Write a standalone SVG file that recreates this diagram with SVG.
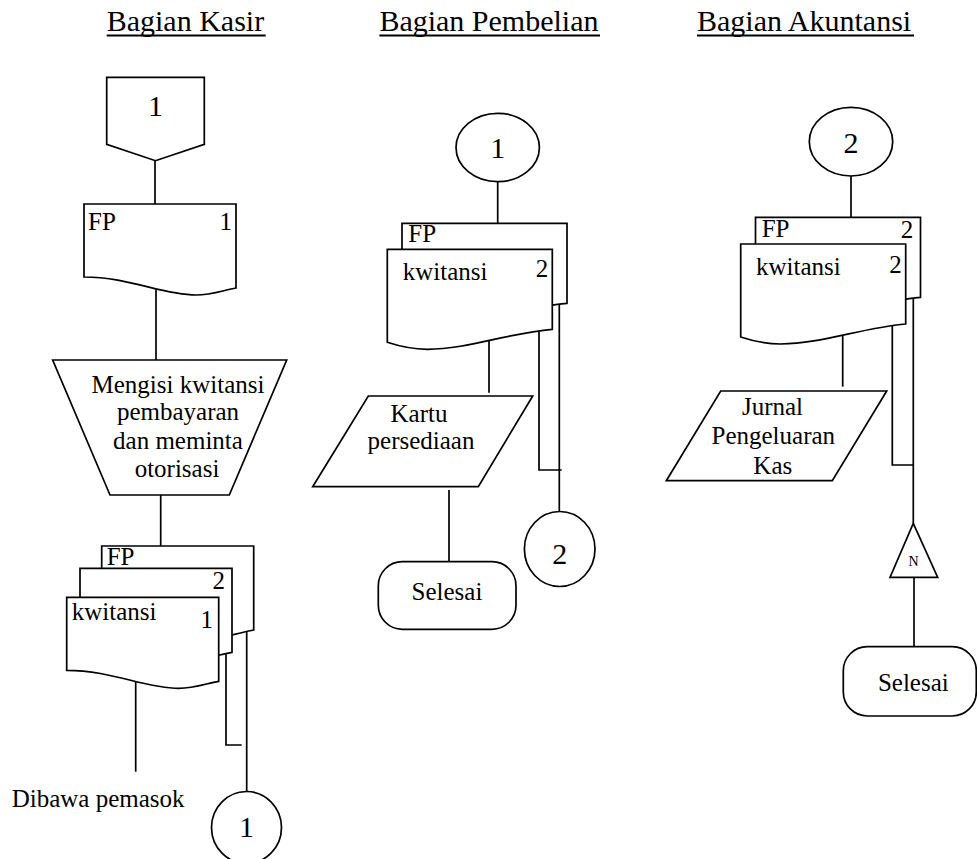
<svg xmlns="http://www.w3.org/2000/svg" xmlns:xlink="http://www.w3.org/1999/xlink" width="977" height="859" viewBox="0 0 977 859">
  <style>
    .shape { fill: #ffffff; stroke: #000000; stroke-width: 1.7; stroke-linejoin: miter; }
    .line { fill: none; stroke: #000000; stroke-width: 1.7; }
    .ul { stroke: #000000; stroke-width: 2; }
    text { fill: #000000; font-family: "Liberation Serif", "Times New Roman", serif; }
    .title { font-size: 30px; }
    .lbl { font-size: 25px; }
    .num { font-size: 30px; text-anchor: middle; }
    .mid { text-anchor: middle; }
    .end { text-anchor: end; }
    .small { font-size: 14px; text-anchor: middle; }
  </style>
  <defs>
    <!-- document symbol, narrow variant (Kasir lane) -->
    <path id="docA" class="shape" d="M0,0 H152 V84 C140,86 128,91 112,91 C78,91 45,73 0,73 Z"/>
    <!-- document symbol, wide variant (Pembelian / Akuntansi lanes) -->
    <path id="docB" class="shape" d="M0,0 H165 V80 C120,84 80,100 40,100 C25,100 12,97 0,93 Z"/>
  </defs>

  <rect width="977" height="859" fill="#ffffff"/>

  <!-- lane headings -->
  <g id="headings">
    <text class="title" x="106.7" y="31">Bagian Kasir</text>
    <line class="ul" x1="106.7" y1="35.5" x2="265.7" y2="35.5"/>
    <text class="title" x="379.4" y="31">Bagian Pembelian</text>
    <line class="ul" x1="379.4" y1="35.5" x2="600" y2="35.5"/>
    <text class="title" x="697" y="31">Bagian Akuntansi</text>
    <line class="ul" x1="697" y1="35.5" x2="914" y2="35.5"/>
  </g>

  <!-- flow lines -->
  <g id="connectors">
    <!-- Kasir -->
    <line class="line" x1="155" y1="160.7" x2="155" y2="205"/>
    <line class="line" x1="156" y1="285" x2="156" y2="360"/>
    <line class="line" x1="160.7" y1="495" x2="160.7" y2="546"/>
    <line class="line" x1="135.7" y1="680" x2="135.7" y2="771.7"/>
    <polyline class="line" points="226,650 226,745 241.7,745"/>
    <line class="line" x1="246.7" y1="629" x2="246.7" y2="792"/>
    <!-- Pembelian -->
    <line class="line" x1="497.7" y1="181.7" x2="497.7" y2="226.7"/>
    <line class="line" x1="489" y1="335" x2="489" y2="392.7"/>
    <line class="line" x1="449" y1="490" x2="449" y2="561.7"/>
    <polyline class="line" points="539,330 539,470 561.7,470"/>
    <line class="line" x1="559.3" y1="302.7" x2="559.3" y2="511.7"/>
    <!-- Akuntansi -->
    <line class="line" x1="851" y1="176" x2="851" y2="220.7"/>
    <line class="line" x1="842.7" y1="330" x2="842.7" y2="386.7"/>
    <polyline class="line" points="892.3,323 892.3,465 913.3,465"/>
    <line class="line" x1="913.3" y1="298" x2="913.3" y2="523.3"/>
    <line class="line" x1="914" y1="577.3" x2="914" y2="646.7"/>
  </g>

  <!-- Bagian Kasir -->
  <g id="kasir-offpage-1">
    <path class="shape" d="M106.7,77.3 H204.3 V144.3 L155.5,160.7 L106.7,144.3 Z"/>
    <text class="num" x="155.5" y="116">1</text>
  </g>
  <g id="kasir-doc-fp">
    <use href="#docA" xlink:href="#docA" x="84" y="204"/>
    <text class="lbl" x="88" y="230">FP</text>
    <text class="lbl end" x="232" y="230">1</text>
  </g>
  <g id="kasir-proses">
    <path class="shape" d="M52.7,360 H286.7 L229.3,495 H110 Z"/>
    <text class="lbl mid" x="178" y="393">Mengisi kwitansi</text>
    <text class="lbl mid" x="178" y="420">pembayaran</text>
    <text class="lbl mid" x="178" y="449">dan meminta</text>
    <text class="lbl mid" x="177" y="477">otorisasi</text>
  </g>
  <g id="kasir-doc-stack">
    <use href="#docA" xlink:href="#docA" x="101.7" y="546"/>
    <use href="#docA" xlink:href="#docA" x="80" y="568.3"/>
    <use href="#docA" xlink:href="#docA" x="66.7" y="597.3"/>
    <text class="lbl" x="106.7" y="565">FP</text>
    <text class="lbl end" x="225" y="589">2</text>
    <text class="lbl" x="71.7" y="620">kwitansi</text>
    <text class="lbl end" x="213" y="628">1</text>
  </g>
  <g id="kasir-pemasok">
    <text class="lbl" x="11.7" y="806.7">Dibawa pemasok</text>
  </g>
  <g id="kasir-connector-1">
    <ellipse class="shape" cx="246.5" cy="827.5" rx="35" ry="36"/>
    <text class="num" x="246.5" y="837">1</text>
  </g>

  <!-- Bagian Pembelian -->
  <g id="pembelian-connector-1">
    <ellipse class="shape" cx="497.7" cy="147.5" rx="41.7" ry="34.2"/>
    <text class="num" x="497.7" y="158">1</text>
  </g>
  <g id="pembelian-doc-stack">
    <use href="#docB" xlink:href="#docB" x="402" y="223.3"/>
    <use href="#docB" xlink:href="#docB" x="387.3" y="249.3"/>
    <text class="lbl" x="408.3" y="241.7">FP</text>
    <text class="lbl" x="402.7" y="280">kwitansi</text>
    <text class="lbl end" x="548.3" y="277">2</text>
  </g>
  <g id="pembelian-kartu">
    <path class="shape" d="M368.3,396 H532.7 L478.3,486.7 H312.7 Z"/>
    <text class="lbl mid" x="419" y="421.7">Kartu</text>
    <text class="lbl mid" x="421" y="449">persediaan</text>
  </g>
  <g id="pembelian-selesai">
    <rect class="shape" x="378.3" y="561.7" width="137.7" height="67.6" rx="24" ry="24"/>
    <text class="lbl mid" x="447" y="600">Selesai</text>
  </g>
  <g id="pembelian-connector-2">
    <ellipse class="shape" cx="559.7" cy="549" rx="35.3" ry="37.5"/>
    <text class="num" x="559.7" y="563.5">2</text>
  </g>

  <!-- Bagian Akuntansi -->
  <g id="akuntansi-connector-2">
    <ellipse class="shape" cx="851" cy="141.7" rx="41.7" ry="34.3"/>
    <text class="num" x="851" y="152.5">2</text>
  </g>
  <g id="akuntansi-doc-stack">
    <use href="#docB" xlink:href="#docB" x="755.5" y="217.3"/>
    <use href="#docB" xlink:href="#docB" x="740.7" y="244"/>
    <text class="lbl" x="761.7" y="236.7">FP</text>
    <text class="lbl end" x="913.3" y="238">2</text>
    <text class="lbl" x="756" y="275">kwitansi</text>
    <text class="lbl end" x="901.7" y="273">2</text>
  </g>
  <g id="akuntansi-jurnal">
    <path class="shape" d="M720.7,391 H886.7 L832.3,480.7 H666.3 Z"/>
    <text class="lbl mid" x="772.5" y="415">Jurnal</text>
    <text class="lbl mid" x="773.3" y="444">Pengeluaran</text>
    <text class="lbl mid" x="772.8" y="474">Kas</text>
  </g>
  <g id="akuntansi-arsip-n">
    <path class="shape" d="M913.3,523.3 L937.7,577.3 H890 Z"/>
    <text class="small" x="913.5" y="566">N</text>
  </g>
  <g id="akuntansi-selesai">
    <rect class="shape" x="843.3" y="646.7" width="133" height="69.3" rx="24" ry="24"/>
    <text class="lbl mid" x="913.3" y="691">Selesai</text>
  </g>
</svg>
